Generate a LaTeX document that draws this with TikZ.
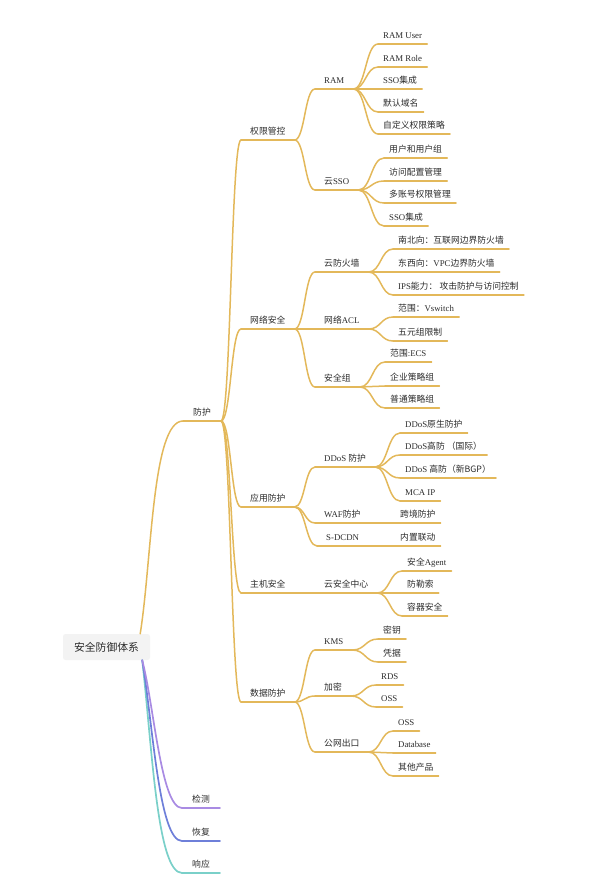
\documentclass[tikz,border=0pt]{standalone}
\usepackage{fontspec}
\setmainfont{Liberation Serif}
\newfontfamily\cjk{Noto Sans CJK SC}
\usetikzlibrary{calc}
\newcommand\C[1]{{\cjk #1}}
\definecolor{ylw}{HTML}{E3B85A}
\definecolor{pur}{HTML}{A98BE3}
\definecolor{blu}{HTML}{6E7FD9}
\definecolor{tea}{HTML}{7AD0C9}
\definecolor{txt}{HTML}{2B2B2B}
\definecolor{rootfill}{HTML}{F3F3F3}
\tikzset{
  lbl/.style={font=\fontsize{8.8pt}{10pt}\selectfont, text=txt, inner ysep=3pt,
    text height=6.5pt, text depth=2.5pt, anchor=south west},
  yline/.style={draw=ylw, line width=1.5pt, line cap=round},
  pline/.style={draw=pur, line width=1.7pt, line cap=round},
  bline/.style={draw=blu, line width=1.7pt, line cap=round},
  tline/.style={draw=tea, line width=1.7pt, line cap=round},
  rootbox/.style={fill=rootfill, rounded corners=2.5pt, minimum width=87pt,
    minimum height=26pt, inner sep=0pt, text=txt,
    font=\cjk\fontsize{10.8pt}{12pt}\selectfont}
}
% #1 name, #2 text left x, #3 underline y, #4 text, #5 pad
\newcommand\T[5]{\node[lbl, inner xsep=#5pt] (#1) at (#2-#5,#3) {#4};}
% edge from parent to child + child's underline
\newcommand\K[3]{%
  \draw[#3] let \p1=(#1.south east), \p2=(#2.south west) in
    (\p1) .. controls ({(\x1+\x2)/2},\y1) and ({(\x1+\x2)/2},\y2) .. (\p2);
  \draw[#3] (#2.south west) -- (#2.south east);}
\begin{document}
\begin{tikzpicture}[x=1pt,y=-1pt]
\useasboundingbox (0,0) rectangle (609,885);
\node[rootbox] (root) at (106.5,647) {安全防御体系};

% level 1
\T{fh}{193}{421}{\C{防护}}{10}
\T{jc}{192}{808}{\C{检测}}{10}
\T{hf}{192}{841}{\C{恢复}}{10}
\T{xy}{192}{873}{\C{响应}}{10}

\draw[yline] ([xshift=-10pt]root.north east) .. controls (152,560) and (152,421) .. (fh.south west);
\draw[yline] (fh.south west) -- (fh.south east);
\draw[tline] ([xshift=-8pt]root.south east) .. controls (152,745) and (157,873) .. (xy.south west);
\draw[tline] (xy.south west) -- (xy.south east);
\draw[bline] ([xshift=-8pt]root.south east) .. controls (153,725) and (159,841) .. (hf.south west);
\draw[bline] (hf.south west) -- (hf.south east);
\draw[pline] ([xshift=-8pt]root.south east) .. controls (154,705) and (161,808) .. (jc.south west);
\draw[pline] (jc.south west) -- (jc.south east);

% level 2
\T{qx}{250}{140}{\C{权限管控}}{9}
\T{wl}{250}{329}{\C{网络安全}}{9}
\T{yy}{250}{507}{\C{应用防护}}{9}
\T{zj}{250}{593}{\C{主机安全}}{9}
\T{sj}{250}{702}{\C{数据防护}}{9}
\K{fh}{qx}{yline}
\K{fh}{wl}{yline}
\K{fh}{yy}{yline}
\K{fh}{zj}{yline}
\K{fh}{sj}{yline}

% level 3
\T{ram}{324}{89}{RAM}{9}
\T{csso}{324}{190}{\C{云}SSO}{9}
\T{fw}{324}{272}{\C{云防火墙}}{9}
\T{acl}{324}{329}{\C{网络}ACL}{9}
\T{sg}{324}{387}{\C{安全组}}{9}
\T{ddos}{324}{467}{DDoS \C{防护}}{9}
\T{waf}{324}{523}{WAF\C{防护}}{9}
\T{sdcdn}{326}{546}{S-DCDN}{9}
\T{aqzx}{324}{593}{\C{云安全中心}}{9}
\T{kms}{324}{650}{KMS}{9}
\T{jm}{324}{696}{\C{加密}}{9}
\T{gw}{324}{752}{\C{公网出口}}{9}
\K{qx}{ram}{yline}
\K{qx}{csso}{yline}
\K{wl}{fw}{yline}
\K{wl}{acl}{yline}
\K{wl}{sg}{yline}
\K{yy}{ddos}{yline}
\K{yy}{waf}{yline}
\K{yy}{sdcdn}{yline}
\K{zj}{aqzx}{yline}
\K{sj}{kms}{yline}
\K{sj}{jm}{yline}
\K{sj}{gw}{yline}

% level 4
\T{ram1}{383}{44}{RAM User}{5}
\T{ram2}{383}{67}{RAM Role}{5}
\T{ram3}{383}{89}{SSO\C{集成}}{5}
\T{ram4}{383}{112}{\C{默认域名}}{5}
\T{ram5}{383}{134}{\C{自定义权限策略}}{5}
\foreach \nm in {ram1,ram2,ram3,ram4,ram5}{\K{ram}{\nm}{yline}}

\T{sso1}{389}{158}{\C{用户和用户组}}{5}
\T{sso2}{389}{181}{\C{访问配置管理}}{5}
\T{sso3}{389}{203}{\C{多账号权限管理}}{5}
\T{sso4}{389}{226}{SSO\C{集成}}{5}
\foreach \nm in {sso1,sso2,sso3,sso4}{\K{csso}{\nm}{yline}}

\T{fw1}{398}{249}{\C{南北向：互联网边界防火墙}}{5}
\T{fw2}{398}{272}{\C{东西向：}VPC\C{边界防火墙}}{5}
\T{fw3}{398}{295}{IPS\C{能力：} \C{攻击防护与访问控制}}{5}
\foreach \nm in {fw1,fw2,fw3}{\K{fw}{\nm}{yline}}

\T{acl1}{398}{317}{\C{范围：}Vswitch}{5}
\T{acl2}{398}{341}{\C{五元组限制}}{5}
\foreach \nm in {acl1,acl2}{\K{acl}{\nm}{yline}}

\T{sg1}{390}{362}{\C{范围}:ECS}{5}
\T{sg2}{390}{386}{\C{企业策略组}}{5}
\T{sg3}{390}{408}{\C{普通策略组}}{5}
\foreach \nm in {sg1,sg2,sg3}{\K{sg}{\nm}{yline}}

\T{dd1}{405}{433}{DDoS\C{原生防护}}{5}
\T{dd2}{405}{455}{DDoS\C{高防 （国际）}}{5}
\T{dd3}{405}{478}{DDoS \C{高防（新BGP）}}{5}
\T{dd4}{405}{501}{MCA IP}{5}
\foreach \nm in {dd1,dd2,dd3,dd4}{\K{ddos}{\nm}{yline}}

\T{waf1}{400}{523}{\C{跨境防护}}{5}
\K{waf}{waf1}{yline}
\T{sd1}{400}{546}{\C{内置联动}}{5}
\K{sdcdn}{sd1}{yline}

\T{aq1}{407}{571}{\C{安全}Agent}{5}
\T{aq2}{407}{593}{\C{防勒索}}{5}
\T{aq3}{407}{616}{\C{容器安全}}{5}
\foreach \nm in {aq1,aq2,aq3}{\K{aqzx}{\nm}{yline}}

\T{kms1}{383}{639}{\C{密钥}}{5}
\T{kms2}{383}{662}{\C{凭据}}{5}
\foreach \nm in {kms1,kms2}{\K{kms}{\nm}{yline}}

\T{jm1}{381}{685}{RDS}{5}
\T{jm2}{381}{707}{OSS}{5}
\foreach \nm in {jm1,jm2}{\K{jm}{\nm}{yline}}

\T{gw1}{398}{731}{OSS}{5}
\T{gw2}{398}{753}{Database}{5}
\T{gw3}{398}{776}{\C{其他产品}}{5}
\foreach \nm in {gw1,gw2,gw3}{\K{gw}{\nm}{yline}}
\end{tikzpicture}
\end{document}
